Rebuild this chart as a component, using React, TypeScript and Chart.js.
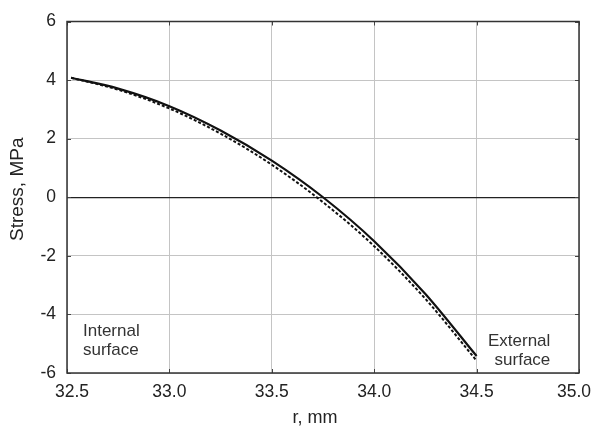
import React, { useEffect, useRef } from "react";
import { Chart, registerables } from "chart.js";

Chart.register(...registerables);

const radius = [32.52, 32.75, 33.0, 33.25, 33.5, 33.75, 34.0, 34.25, 34.5];
const stressSolid = [4.08, 3.71, 3.11, 2.28, 1.25, 0.0, -1.5, -3.3, -5.42];
const stressDashed = [4.08, 3.67, 3.03, 2.17, 1.11, -0.17, -1.67, -3.47, -5.58];
const xTicks = [32.5, 33.0, 33.5, 34.0, 34.5, 35.0];
const yTicks = [-6, -4, -2, 0, 2, 4, 6];
const xTitle = "r, mm";
const yTitle = "Stress, MPa";
const noteInternal = ["Internal", "surface"];
const noteExternal = ["External", "surface"];

const FONT = "'Liberation Sans', Arial, sans-serif";

const decorPlugin = {
  id: "decor",
  afterDraw(chart: any) {
    const { ctx, chartArea, scales, width } = chart;
    const { left, right, top, bottom } = chartArea;
    const xs = scales.x;
    const ys = scales.y;
    ctx.save();
    ctx.strokeStyle = "#444";
    ctx.lineWidth = 1;
    const tl = 4;
    ctx.beginPath();
    for (const v of xTicks) {
      const px = Math.round(xs.getPixelForValue(v)) + 0.5;
      ctx.moveTo(px, bottom);
      ctx.lineTo(px, bottom - tl);
      ctx.moveTo(px, top);
      ctx.lineTo(px, top + tl);
    }
    for (const v of yTicks) {
      const py = Math.round(ys.getPixelForValue(v)) + 0.5;
      ctx.moveTo(left, py);
      ctx.lineTo(left + tl, py);
      ctx.moveTo(right, py);
      ctx.lineTo(right - tl, py);
    }
    ctx.stroke();
    // frame
    ctx.lineWidth = 1.5;
    ctx.strokeStyle = "#333";
    ctx.strokeRect(left, top, right - left, bottom - top);

    // x tick labels
    ctx.fillStyle = "#222";
    ctx.font = `17.5px ${FONT}`;
    ctx.textBaseline = "middle";
    ctx.textAlign = "center";
    for (const v of xTicks) {
      const label = v.toFixed(1);
      const w = ctx.measureText(label).width;
      let px = xs.getPixelForValue(v);
      px = Math.max(px, 55 + w / 2);
      px = Math.min(px, width - 2 - w / 2);
      ctx.fillText(label, px, bottom + 19);
    }

    // axis titles
    ctx.font = `18px ${FONT}`;
    ctx.fillText(xTitle, (left + right) / 2 - 8, bottom + 45);
    ctx.save();
    ctx.translate(18, (top + bottom) / 2 - 8);
    ctx.rotate(-Math.PI / 2);
    ctx.font = `19px ${FONT}`;
    ctx.fillText(yTitle, 0, 0);
    ctx.restore();

    // annotations
    ctx.fillStyle = "#333";
    ctx.font = `17px ${FONT}`;
    ctx.textBaseline = "middle";
    ctx.textAlign = "left";
    const ix = xs.getPixelForValue(32.578);
    const iy = ys.getPixelForValue(-4.59);
    ctx.fillText(noteInternal[0], ix, iy);
    ctx.fillText(noteInternal[1], ix, iy + 19);
    ctx.textAlign = "right";
    const ex = xs.getPixelForValue(34.86);
    const ey = ys.getPixelForValue(-4.93);
    ctx.fillText(noteExternal[0], ex, ey);
    ctx.fillText(noteExternal[1], ex, ey + 19);
    ctx.restore();
  },
};

export default function App() {
  const ref = useRef<HTMLCanvasElement>(null);
  useEffect(() => {
    document.body.style.margin = "0";
    const canvas = ref.current!;
    const chart = new Chart(canvas, {
      type: "scatter",
      data: {
        datasets: [
          {
            label: "solid",
            data: radius.map((r, i) => ({ x: r, y: stressSolid[i] })),
            showLine: true,
            borderColor: "#111",
            borderWidth: 2.2,
            pointRadius: 0,
            cubicInterpolationMode: "monotone",
            order: 1,
          },
          {
            label: "dashed",
            data: radius.map((r, i) => ({ x: r, y: stressDashed[i] })),
            showLine: true,
            borderColor: "#111",
            borderWidth: 2,
            borderDash: [3, 2],
            pointRadius: 0,
            cubicInterpolationMode: "monotone",
            order: 2,
          },
        ],
      },
      options: {
        animation: false,
        responsive: false,
        maintainAspectRatio: false,
        layout: { padding: { top: 13, right: 14, left: 0, bottom: 0 } },
        plugins: { legend: { display: false }, tooltip: { enabled: false } },
        scales: {
          x: {
            type: "linear",
            min: 32.5,
            max: 35.0,
            afterBuildTicks: (s: any) => {
              s.ticks = xTicks.map((v) => ({ value: v }));
            },
            afterFit: (s: any) => {
              s.height = 56;
              s.paddingLeft = 0;
              s.paddingRight = 0;
            },
            ticks: { display: false },
            grid: { color: "#c4c4c4", lineWidth: 1, drawTicks: false },
            border: { display: false },
          },
          y: {
            type: "linear",
            min: -6,
            max: 6,
            afterBuildTicks: (s: any) => {
              s.ticks = yTicks.map((v) => ({ value: v }));
            },
            afterFit: (s: any) => {
              s.width = 67;
            },
            ticks: {
              color: "#222",
              font: { family: FONT, size: 17.5 },
              padding: 11,
            },
            grid: {
              color: (c: any) => (c.tick && c.tick.value === 0 ? "#222" : "#c4c4c4"),
              lineWidth: (c: any) => (c.tick && c.tick.value === 0 ? 1.3 : 1),
              drawTicks: false,
            },
            border: { display: false },
          },
        },
      },
      plugins: [decorPlugin],
    } as any);
    return () => chart.destroy();
  }, []);
  return <canvas ref={ref} width={593} height={429} style={{ display: "block" }} />;
}
